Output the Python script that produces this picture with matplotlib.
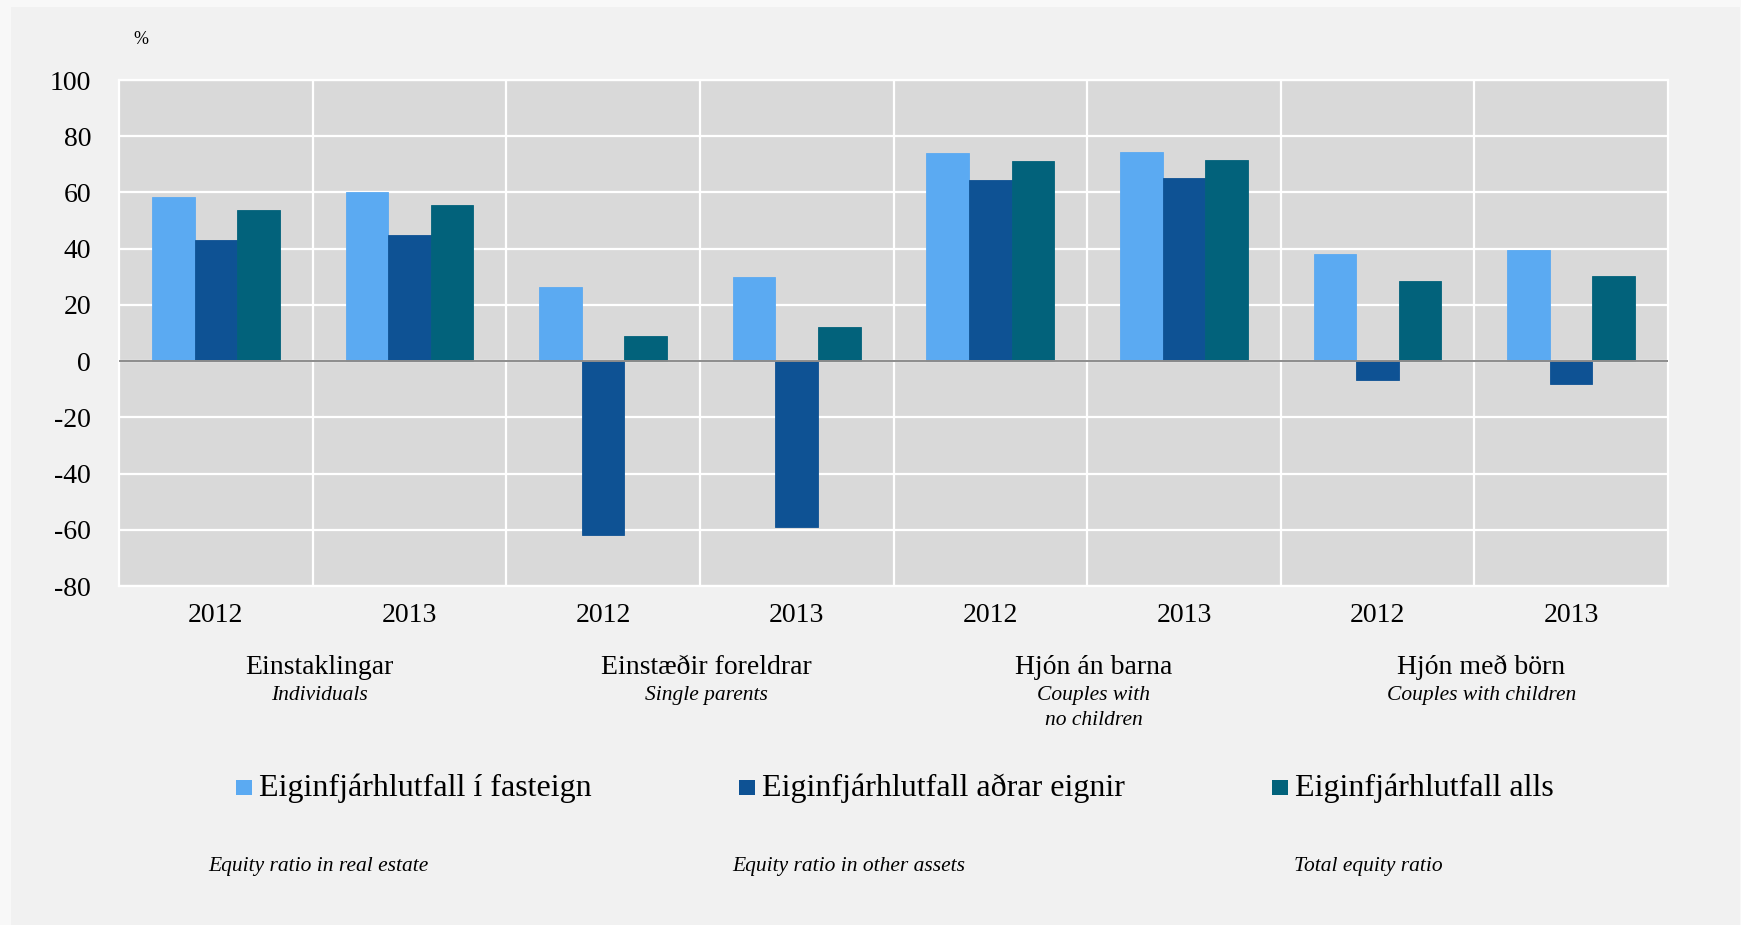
import matplotlib.pyplot as plt
import matplotlib.transforms as mtransforms
from matplotlib.patches import Rectangle
import numpy as np

years = ["2012", "2013", "2012", "2013", "2012", "2013", "2012", "2013"]
groups_is = ["Einstaklingar", "Einstæðir foreldrar", "Hjón án barna", "Hjón með börn"]
groups_en = ["Individuals", "Single parents", "Couples with\nno children", "Couples with children"]

fasteign = [58.5, 60.3, 26.5, 29.8, 74.2, 74.4, 38.2, 39.6]
adrar = [43.1, 44.9, -61.8, -58.9, 64.4, 65.2, -6.6, -8.0]
alls = [53.6, 55.4, 9.1, 12.2, 71.1, 71.5, 28.4, 30.1]

series_is = ["Eiginfjárhlutfall í fasteign", "Eiginfjárhlutfall aðrar eignir", "Eiginfjárhlutfall alls"]
series_en = ["Equity ratio in real estate", "Equity ratio in other assets", "Total equity ratio"]
colors = ["#5BAAF2", "#0E5294", "#02627B"]

W, H = 1741, 925
plt.rcParams['font.family'] = ['Liberation Serif', 'DejaVu Serif']
plt.rcParams['axes.unicode_minus'] = False

fig = plt.figure(figsize=(W / 100, H / 100), dpi=100, facecolor="#f8f8f8")
fig.patches.append(Rectangle((11 / W, 0), (W - 12) / W, 1 - 7 / H, transform=fig.transFigure,
                             facecolor="#f1f1f1", edgecolor="none", zorder=-10))

ax = fig.add_axes([119 / W, 1 - 586 / H, (1668 - 119) / W, (586 - 80) / H])
ax.set_facecolor("#d9d9d9")

x = np.arange(len(years))
w = 0.22
for i, vals in enumerate([fasteign, adrar, alls]):
    ax.bar(x + (i - 1) * w, vals, w, color=colors[i], edgecolor=colors[i], linewidth=0.6, zorder=3)

ax.set_xlim(-0.5, len(years) - 0.5)
ax.set_ylim(-80, 100)
ax.set_yticks(range(-80, 101, 20))
ax.set_xticks(x)
ax.set_xticklabels(years, fontsize=20)
ax.tick_params(axis='x', length=0, pad=12)
ax.tick_params(axis='y', length=0, pad=20, labelsize=20)

ax.grid(axis='y', color="white", linewidth=1.6, zorder=1)
for b in np.arange(0.5, len(years) - 0.5, 1):
    ax.axvline(b, color="white", linewidth=1.6, zorder=1)
ax.axhline(0, color="#8c8c8c", linewidth=1.4, zorder=4)
for s in ax.spines.values():
    s.set_color("white")
    s.set_linewidth(1.6)

fig.text(141 / W, 1 - 39 / H, "%", fontsize=13, ha='center', va='center')

trans = mtransforms.blended_transform_factory(ax.transData, fig.transFigure)
for k in range(len(groups_is)):
    gx = 2 * k + 0.5 + 0.035
    ax.text(gx, 1 - 667 / H, groups_is[k], transform=trans, fontsize=20, ha='center', va='center')
    ax.text(gx, 1 - 686 / H, groups_en[k], transform=trans, fontsize=15.5, style='italic',
            ha='center', va='top', linespacing=1.45)

sq_left = [236, 739, 1272]
txt_left = [259, 762, 1295]
en_left = [208, 732, 1294]
for i in range(3):
    fig.patches.append(Rectangle((sq_left[i] / W, 1 - 795 / H), 16 / W, 15 / H,
                                 transform=fig.transFigure, facecolor=colors[i], edgecolor="none"))
    fig.text(txt_left[i] / W, 1 - 788 / H, series_is[i], fontsize=23, ha='left', va='center')
    fig.text(en_left[i] / W, 1 - 866 / H, series_en[i], fontsize=15.5, style='italic',
             ha='left', va='center')

fig.savefig("out.png", dpi=100, facecolor=fig.get_facecolor())
